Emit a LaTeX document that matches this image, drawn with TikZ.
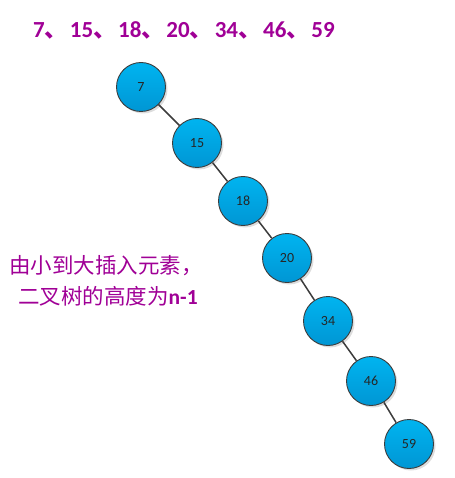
\documentclass[tikz,border=0pt]{standalone}
\usepackage{fontspec}
\setmainfont{Carlito}
\newfontfamily\cjk{Noto Sans CJK SC}
\usetikzlibrary{shadows}
\definecolor{tpurple}{RGB}{160,0,150}
\definecolor{ctop}{RGB}{0,180,240}
\definecolor{cbot}{RGB}{0,150,212}
\definecolor{cedge}{RGB}{60,60,60}
\newcommand{\dun}{{\cjk 、}\hspace{2pt}}
\begin{document}
\begin{tikzpicture}[x=1pt,y=-1pt,
  tnode/.style={circle, minimum size=49pt, inner sep=0pt, draw=cedge, line width=0.9pt,
    top color=ctop, bottom color=cbot,
    drop shadow={shadow xshift=2pt, shadow yshift=-2pt, fill=black!22, opacity=0.6},
    font=\fontsize{14}{15}\selectfont, text=black!85},
  edge/.style={draw=cedge, line width=1.5pt}]
\useasboundingbox (0,0) rectangle (454,478);
\node[anchor=west, inner sep=0pt, text=tpurple, font=\fontsize{23}{24}\selectfont\bfseries] (title) at (33,30)
  {7\dun15\dun18\dun20\dun34\dun46\dun59};
\node[tnode] (n7) at (141,87) {7};
\node[tnode] (n15) at (197,143) {15};
\node[tnode] (n18) at (243,201) {18};
\node[tnode] (n20) at (287,258) {20};
\node[tnode] (n34) at (328,321) {34};
\node[tnode] (n46) at (371,381) {46};
\node[tnode] (n59) at (409,444) {59};
\draw[edge] (n7) -- (n15);
\draw[edge] (n15) -- (n18);
\draw[edge] (n18) -- (n20);
\draw[edge] (n20) -- (n34);
\draw[edge] (n34) -- (n46);
\draw[edge] (n46) -- (n59);
\node[anchor=west, text=tpurple, font=\fontsize{21.5}{24}\selectfont\cjk, inner sep=0pt] (l1) at (9,266) {由小到大插入元素，};
\node[anchor=west, text=tpurple, font=\fontsize{21.5}{24}\selectfont\cjk, inner sep=0pt] (l2) at (18,296) {二叉树的高度为{\rmfamily\bfseries n-1}};
\end{tikzpicture}
\end{document}
